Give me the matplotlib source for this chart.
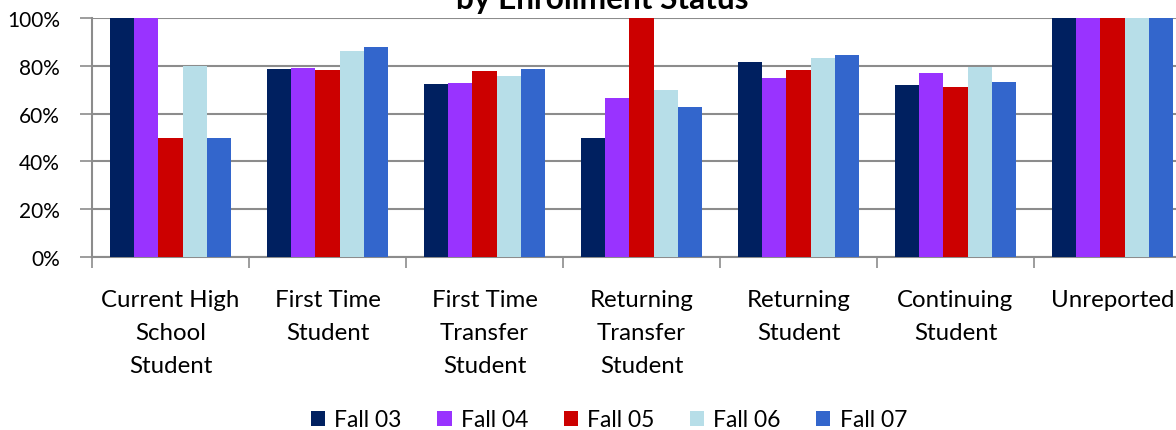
import matplotlib
matplotlib.use("Agg")
import matplotlib.pyplot as plt
import numpy as np

categories = ["Current High\nSchool\nStudent", "First Time\nStudent", "First Time\nTransfer\nStudent",
              "Returning\nTransfer\nStudent", "Returning\nStudent", "Continuing\nStudent", "Unreported"]
series_names = ["Fall 03", "Fall 04", "Fall 05", "Fall 06", "Fall 07"]
fall03 = [100, 78.8, 72.5, 50, 81.7, 72.1, 100]
fall04 = [100, 79.2, 72.9, 66.7, 75.0, 77.1, 100]
fall05 = [50, 78.3, 77.9, 100, 78.3, 71.3, 100]
fall06 = [80, 86.3, 75.8, 70.0, 83.3, 79.7, 100]
fall07 = [50, 87.9, 78.8, 62.9, 84.6, 73.3, 100]
series = [fall03, fall04, fall05, fall06, fall07]
colors = ["#002060", "#9933FF", "#CC0000", "#B7DEE8", "#3366CC"]
yticks = [0, 20, 40, 60, 80, 100]
ytick_labels = ["0%", "20%", "40%", "60%", "80%", "100%"]
title = "by Enrollment Status"

plt.rcParams['font.family'] = ['Lato', 'DejaVu Sans']
fig = plt.figure(figsize=(11.76, 4.31), dpi=100)
ax = fig.add_axes([92/1176, 1-258/431, 1099/1176, (258-19)/431])

x = np.arange(len(categories))
w = 0.153
for i, (vals, c, name) in enumerate(zip(series, colors, series_names)):
    ax.bar(x + (i-2)*w, vals, width=w, color=c, label=name, zorder=3)

ax.set_xlim(-0.5, len(categories)-0.5)
ax.set_ylim(0, 100)
ax.set_yticks(yticks)
ax.set_yticklabels(ytick_labels, fontsize=15)
ax.yaxis.grid(True, color="#8c8c8c", linewidth=1.5, zorder=0)
ax.set_xticks(np.arange(len(categories)+1) - 0.5)
ax.set_xticklabels([])
ax.set_xticks(x, minor=True)
ax.set_xticklabels(categories, minor=True, fontsize=17.3, linespacing=1.72)
ax.tick_params(axis='x', which='minor', length=0, pad=23)
ax.tick_params(axis='x', which='major', length=8, color="#8c8c8c", width=1.2)
ax.tick_params(axis='y', length=9, color="#8c8c8c", width=1.2, pad=14)
for s in ["top", "right"]:
    ax.spines[s].set_visible(False)
for s in ["left", "bottom"]:
    ax.spines[s].set_color("#8c8c8c")
    ax.spines[s].set_linewidth(1.5)

fig.text(602/1176, 1-9/431, title, ha="center", va="baseline", fontsize=22.8, fontweight="bold")

fig.legend(loc="center", bbox_to_anchor=(609/1176, 1-421/431), ncol=5, frameon=False,
           fontsize=16.5, handlelength=0.62, handleheight=0.62, columnspacing=1.55, handletextpad=0.4)

fig.savefig("out.png", dpi=100)
